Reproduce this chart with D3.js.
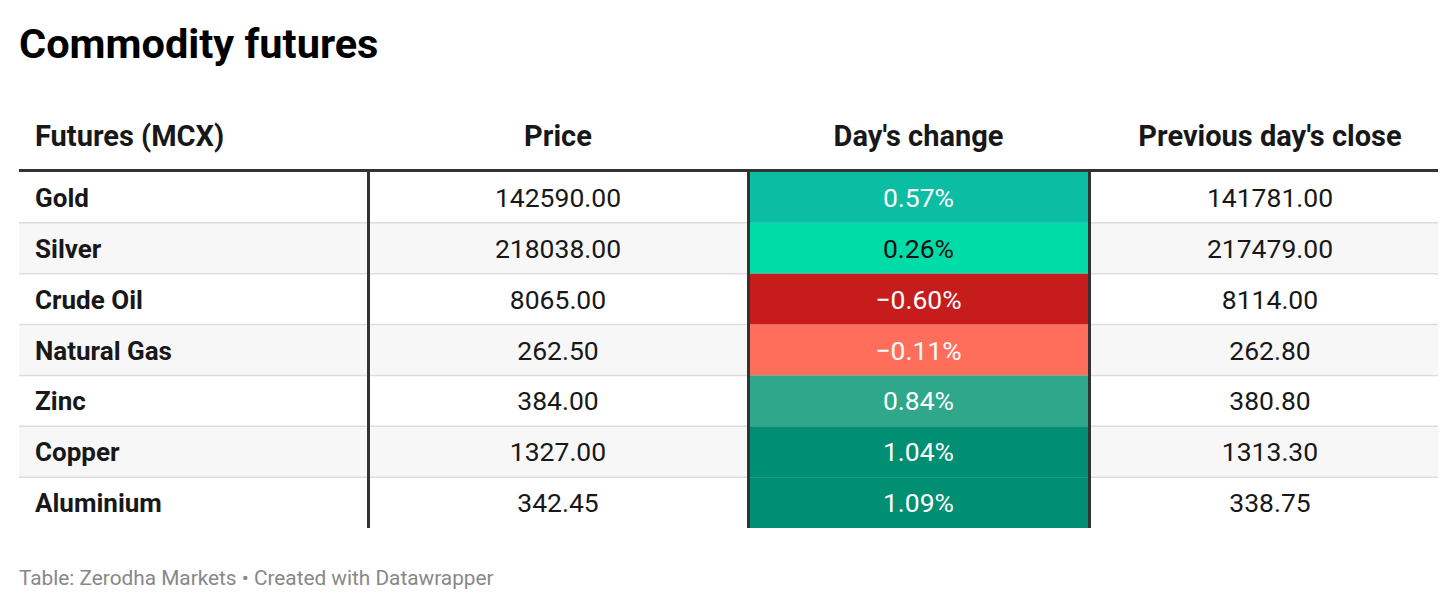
<!DOCTYPE html>
<html>
<head>
<meta charset="utf-8">
<script src="https://cdn.jsdelivr.net/npm/d3@7/dist/d3.min.js"></script>
<style>
  html, body { margin: 0; padding: 0; background: #fff; }
  svg { display: block; font-family: Roboto, "Noto Sans", sans-serif; }
</style>
</head>
<body>
<svg id="chart" width="1456" height="609"></svg>
<script>
// ---- data ----
const title = "Commodity futures";
const footer = "Table: Zerodha Markets • Created with Datawrapper";
const columns = ["Futures (MCX)", "Price", "Day's change", "Previous day's close"];
const commodities = ["Gold", "Silver", "Crude Oil", "Natural Gas", "Zinc", "Copper", "Aluminium"];
const prices = [142590.00, 218038.00, 8065.00, 262.50, 384.00, 1327.00, 342.45];
const dayChange = [0.57, 0.26, -0.60, -0.11, 0.84, 1.04, 1.09];
const prevClose = [141781.00, 217479.00, 8114.00, 262.80, 380.80, 1313.30, 338.75];

// ---- layout / style ----
const W = 1456, H = 609;
const left = 19, right = 1438;
const colEdges = [19, 368, 748, 1089, 1438];
const headerLineY = 170.5;
const rowTop = 172, rowBottom = 528;
const nameSize = 26, numSize = 26.5, headerSize = 29;

const svg = d3.select("#chart");

const fmtPrice = d3.format(".2f");
const fmtPct = v => d3.format(".2f")(v) + "%";

const color = d3.scaleLinear()
  .domain([-0.60, -0.11, 0.26, 0.57, 0.84, 1.04])
  .range(["#c71c1c", "#ff6e5a", "#00dca8", "#0abda3", "#2ea78b", "#008f72"])
  .clamp(true);
const textColorFor = v => (v > 0.1 && v < 0.4) ? "#111111" : "#ffffff";

const y = d3.scaleBand()
  .domain(commodities)
  .range([rowTop, rowBottom])
  .paddingInner(0).paddingOuter(0);

// title
svg.append("text")
  .attr("x", left).attr("y", 57.5)
  .attr("font-size", 41.5).attr("font-weight", 700)
  .attr("fill", "#000")
  .text(title);

// row backgrounds
svg.append("g").selectAll("rect")
  .data(commodities)
  .join("rect")
  .attr("x", left).attr("width", right - left)
  .attr("y", d => y(d)).attr("height", y.bandwidth())
  .attr("fill", (d, i) => i % 2 === 1 ? "#f7f7f7" : "#ffffff");

// row separators
svg.append("g").selectAll("line")
  .data(commodities.slice(1))
  .join("line")
  .attr("x1", left).attr("x2", right)
  .attr("y1", d => y(d)).attr("y2", d => y(d))
  .attr("stroke", "#dddddd").attr("stroke-width", 1.5);

// colored day's change cells
svg.append("g").selectAll("rect")
  .data(commodities)
  .join("rect")
  .attr("x", colEdges[2]).attr("width", colEdges[3] - colEdges[2])
  .attr("y", d => y(d)).attr("height", y.bandwidth())
  .attr("fill", (d, i) => color(dayChange[i]));

// header texts
const headerY = 146;
const headerX = [35, (colEdges[1] + colEdges[2]) / 2, (colEdges[2] + colEdges[3]) / 2, 1270];
const headerAnchor = ["start", "middle", "middle", "middle"];
svg.append("g").selectAll("text")
  .data(columns)
  .join("text")
  .attr("x", (d, i) => headerX[i]).attr("y", headerY)
  .attr("text-anchor", (d, i) => headerAnchor[i])
  .attr("font-size", headerSize).attr("font-weight", 700)
  .attr("fill", "#181818")
  .text(d => d);

// header line
svg.append("line")
  .attr("x1", left).attr("x2", right)
  .attr("y1", headerLineY).attr("y2", headerLineY)
  .attr("stroke", "#333333").attr("stroke-width", 3);

// vertical lines
svg.append("g").selectAll("line")
  .data([colEdges[1], colEdges[2], colEdges[3]])
  .join("line")
  .attr("x1", d => d + 0.5).attr("x2", d => d + 0.5)
  .attr("y1", headerLineY).attr("y2", rowBottom)
  .attr("stroke", "#333333").attr("stroke-width", 3);

// cell texts
const rows = svg.append("g").selectAll("g")
  .data(commodities)
  .join("g")
  .attr("transform", d => `translate(0,${y(d) + y.bandwidth() / 2 + 9.5})`);

rows.append("text")
  .attr("x", 35)
  .attr("font-size", nameSize).attr("font-weight", 700)
  .attr("fill", "#181818")
  .text(d => d);

rows.append("text")
  .attr("x", headerX[1]).attr("text-anchor", "middle")
  .attr("font-size", numSize).attr("fill", "#181818")
  .text((d, i) => fmtPrice(prices[i]));

rows.append("text")
  .attr("x", headerX[2]).attr("text-anchor", "middle")
  .attr("font-size", numSize)
  .attr("fill", (d, i) => textColorFor(dayChange[i]))
  .text((d, i) => fmtPct(dayChange[i]));

rows.append("text")
  .attr("x", headerX[3]).attr("text-anchor", "middle")
  .attr("font-size", numSize).attr("fill", "#181818")
  .text((d, i) => fmtPrice(prevClose[i]));

// footer
svg.append("text")
  .attr("x", left).attr("y", 585)
  .attr("font-size", 20.8).attr("fill", "#888888")
  .text(footer);
</script>
</body>
</html>
